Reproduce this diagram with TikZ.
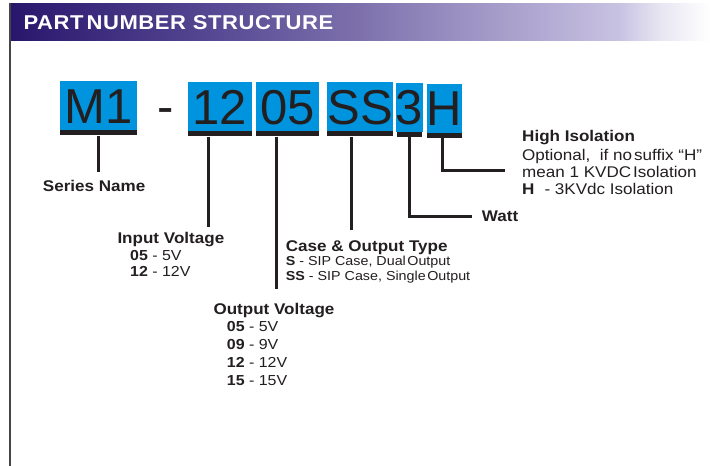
\documentclass[tikz,border=0pt]{standalone}
\usepackage{fontspec}
\setmainfont{Liberation Sans}[FakeStretch=1.1]
\newfontfamily\bigfont{Liberation Sans}
\newfontfamily\titlefont{Liberation Sans}[FakeStretch=1.1,LetterSpace=3]
\definecolor{pblue}{RGB}{0,148,222}
\definecolor{ink}{RGB}{35,31,32}
\definecolor{hA}{RGB}{40,22,108}
\definecolor{hB}{RGB}{88,74,148}
\definecolor{hC}{RGB}{125,113,172}
\definecolor{hD}{RGB}{152,142,192}
\definecolor{hE}{RGB}{200,194,226}
\definecolor{hF}{RGB}{232,230,242}
\pgfdeclarehorizontalshading{hdrshade}{100bp}{color(0bp)=(hA); color(25bp)=(hA); color(40bp)=(hB); color(50bp)=(hC); color(56.5bp)=(hD); color(68.5bp)=(hE); color(71.5bp)=(hF); color(75bp)=(white); color(100bp)=(white)}
\tikzset{
  pbox/.style={fill=pblue, inner sep=0pt, text height=35pt, text depth=0pt, minimum height=49pt,
    font=\bigfont\fontsize{49}{49}\selectfont, text=ink},
  pbar/.style={fill=ink, inner sep=0pt, minimum height=5pt, anchor=north},
  conn/.style={draw=ink, line width=2.8pt},
  lbl/.style={anchor=base west, inner sep=0pt, text=ink},
  hd/.style={lbl, font=\fontsize{15.5}{17}\selectfont\bfseries},
  bodyl/.style={lbl, font=\fontsize{15.5}{17}\selectfont},
  smalll/.style={lbl, font=\fontsize{13}{15}\selectfont},
  volt/.style={lbl, font=\fontsize{14.5}{17}\selectfont},
}
\begin{document}
\begin{tikzpicture}[x=1pt,y=-1pt]
\useasboundingbox (0,0) rectangle (710,466);
\fill[white] (0,0) rectangle (710,466);
% header
\shade[shading=hdrshade] (9,3.3) rectangle (710,40.7);
\draw[draw=gray!55!black, line width=2pt] (10,3.3) -- (10,466);
\node[anchor=base west, inner sep=0pt, text=white, font=\titlefont\fontsize{20}{20}\selectfont\bfseries] (title) at (23.3,29.3) {PART\hspace{3pt}NUMBER STRUCTURE};
% part number boxes
\node[pbox, minimum width=76.7pt] (m1) at (98.35,105.5) {M1};
\node[lbl, font=\bigfont\fontsize{49}{49}\selectfont, anchor=base] (sep) at (165.5,123) {-};
\node[pbox, minimum width=64pt] (p12) at (219.7,106.5) {12};
\node[pbox, minimum width=62.7pt] (p05) at (287.35,106.5) {05};
\node[pbox, minimum width=66.6pt] (pSS) at (360,106.5) {SS};
\node[pbox, minimum width=25.6pt] (p3) at (409.5,107) {3};
\node[pbox, minimum width=35pt] (pH) at (444.2,108.2) {H};
% bars
\node[pbar, minimum width=76.7pt] (m1b) at (m1.south) {};
\node[pbar, minimum width=64pt] (b12) at (p12.south) {};
\node[pbar, minimum width=62.7pt] (b05) at (p05.south) {};
\node[pbar, minimum width=66.6pt] (bSS) at (pSS.south) {};
\node[pbar, minimum width=25.6pt] (b3) at (p3.south) {};
\node[pbar, minimum width=35pt] (bH) at (pH.south) {};
% connector ends
\coordinate (e1) at (98.35,171.7);
\coordinate (e2) at (208.3,227);
\coordinate (e3) at (276.7,289);
\coordinate (e4) at (351.7,230);
\coordinate (k5) at (409.5,216.7);
\coordinate (e5) at (471.5,216.7);
\coordinate (k6) at (442.7,170.7);
\coordinate (e6) at (505,170.7);
\draw[conn] (m1b.south) -- (e1);
\draw[conn] (b12.south -| e2) -- (e2);
\draw[conn] (b05.south -| e3) -- (e3);
\draw[conn] (bSS.south -| e4) -- (e4);
\draw[conn] (b3.south -| k5) -- (k5) -- (e5);
\draw[conn] (bH.south -| k6) -- (k6) -- (e6);
% labels
\node[hd] (sn) at (42.7,191.7) {Series Name};
\node[hd] (iv) at (117.3,243.3) {Input Voltage};
\node[volt] (iv1) at (130,260) {\textbf{05} - 5V};
\node[volt] (iv2) at (130,276.7) {\textbf{12} - 12V};
\node[hd] (ct) at (285.7,251) {Case \& Output Type};
\node[smalll] (ct1) at (285.7,265.7) {\textbf{S} - SIP Case, Dual\hspace{1.5pt}Output};
\node[smalll] (ct2) at (285.7,280) {\textbf{SS} - SIP Case, Single\hspace{1.5pt}Output};
\node[hd] (ov) at (213.3,314) {Output Voltage};
\node[volt] (ov1) at (226.7,331.7) {\textbf{05} - 5V};
\node[volt] (ov2) at (226.7,349.3) {\textbf{09} - 9V};
\node[volt] (ov3) at (226.7,367.3) {\textbf{12} - 12V};
\node[volt] (ov4) at (226.7,385) {\textbf{15} - 15V};
\node[hd] (wt) at (481.7,221) {Watt};
\node[hd] (hi) at (522,141.7) {High Isolation};
\node[bodyl] (hi1) at (522,160.7) {Optional,\ \ if no\hspace{2pt}suffix “H”};
\node[bodyl] (hi2) at (522,177.3) {mean 1 KVDC\hspace{2pt}Isolation};
\node[bodyl] (hi3) at (522,194) {\textbf{H}\hspace{10pt}- 3KVdc Isolation};
\end{tikzpicture}
\end{document}
